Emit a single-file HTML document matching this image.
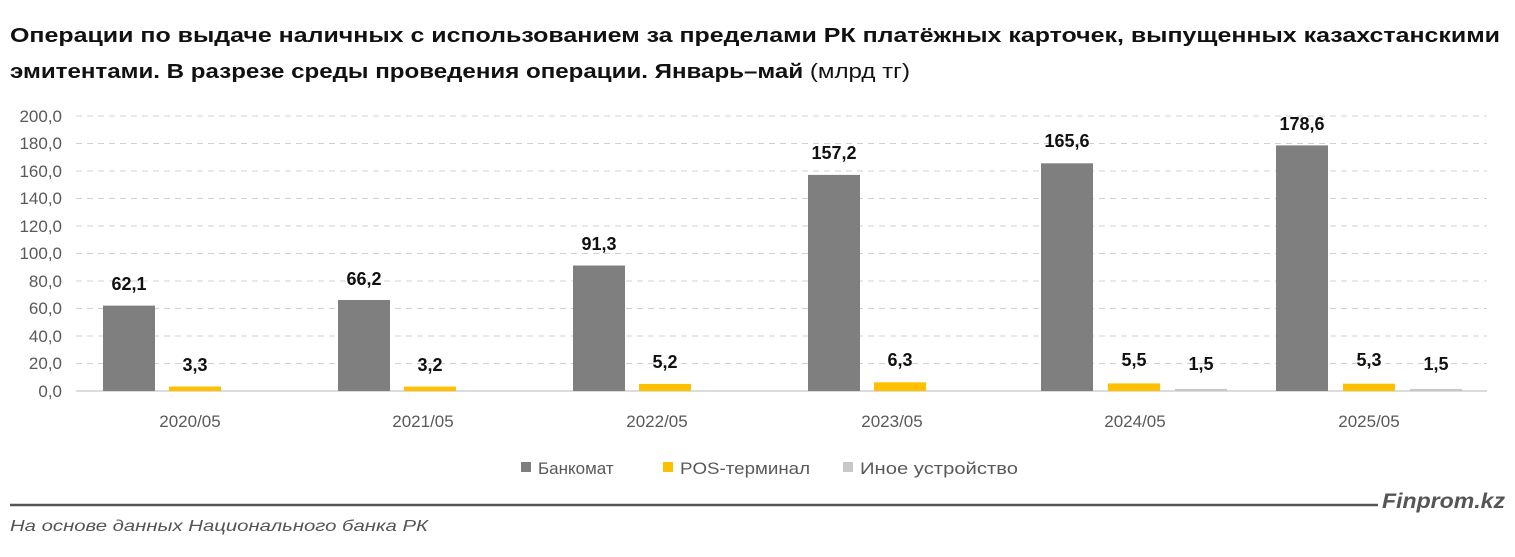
<!DOCTYPE html>
<html><head><meta charset="utf-8"><style>
body{margin:0;background:#fff;width:1515px;height:552px;overflow:hidden;font-family:"Liberation Sans",sans-serif}
</style></head><body>
<svg width="1515" height="552" xmlns="http://www.w3.org/2000/svg" font-family="Liberation Sans, sans-serif">
<text x="10" y="42" font-size="20" font-weight="bold" fill="#111" textLength="1490" lengthAdjust="spacingAndGlyphs">Операции по выдаче наличных с использованием за пределами РК платёжных карточек, выпущенных казахстанскими</text>
<text x="10" y="78" font-size="20" fill="#111" textLength="900" lengthAdjust="spacingAndGlyphs"><tspan font-weight="bold">эмитентами. В разрезе среды проведения операции. Январь–май</tspan> (млрд тг)</text>
<g stroke="#d0d0d0" stroke-dasharray="6,5" stroke-width="1">
<line x1="76" x2="1487" y1="116" y2="116"/><line x1="76" x2="1487" y1="143.5" y2="143.5"/><line x1="76" x2="1487" y1="171" y2="171"/><line x1="76" x2="1487" y1="198.5" y2="198.5"/><line x1="76" x2="1487" y1="226" y2="226"/><line x1="76" x2="1487" y1="253.5" y2="253.5"/><line x1="76" x2="1487" y1="281" y2="281"/><line x1="76" x2="1487" y1="308.5" y2="308.5"/><line x1="76" x2="1487" y1="336" y2="336"/><line x1="76" x2="1487" y1="363.5" y2="363.5"/>
</g>
<line x1="76" x2="1487" y1="391" y2="391" stroke="#d0d0d0" stroke-width="1.5"/>
<g font-size="17" fill="#595959" text-anchor="end">
<text x="62" y="122">200,0</text><text x="62" y="149">180,0</text><text x="62" y="177">160,0</text><text x="62" y="204">140,0</text><text x="62" y="232">120,0</text><text x="62" y="259">100,0</text><text x="62" y="287">80,0</text><text x="62" y="314">60,0</text><text x="62" y="342">40,0</text><text x="62" y="369">20,0</text><text x="62" y="397">0,0</text>
</g>
<g fill="#7f7f7f">
<rect x="103" y="305.6" width="52" height="85.4"/>
<rect x="338" y="300" width="52" height="91"/>
<rect x="573" y="265.5" width="52" height="125.5"/>
<rect x="808" y="174.9" width="52" height="216.1"/>
<rect x="1041" y="163.3" width="52" height="227.7"/>
<rect x="1276" y="145.4" width="52" height="245.6"/>
</g>
<g fill="#ffc000">
<rect x="169" y="386.5" width="52" height="4.5"/>
<rect x="404" y="386.6" width="52" height="4.4"/>
<rect x="639" y="383.9" width="52" height="7.1"/>
<rect x="874" y="382.3" width="52" height="8.7"/>
<rect x="1108" y="383.4" width="52" height="7.6"/>
<rect x="1343" y="383.7" width="52" height="7.3"/>
</g>
<g fill="#c8c8c8">
<rect x="1175" y="388.9" width="52" height="2.1"/>
<rect x="1410" y="388.9" width="52" height="2.1"/>
</g>
<g font-size="18" font-weight="bold" fill="#111" text-anchor="middle">
<text x="129" y="290">62,1</text><text x="364" y="285">66,2</text><text x="599" y="250">91,3</text><text x="834" y="159">157,2</text><text x="1067" y="147">165,6</text><text x="1302" y="130">178,6</text>
<text x="195" y="371">3,3</text><text x="430" y="371">3,2</text><text x="665" y="368">5,2</text><text x="900" y="366">6,3</text><text x="1134" y="366">5,5</text><text x="1369" y="366">5,3</text>
<text x="1201" y="370">1,5</text><text x="1436" y="370">1,5</text>
</g>
<g font-size="17" fill="#595959" text-anchor="middle">
<text x="190" y="427">2020/05</text><text x="423" y="427">2021/05</text><text x="657" y="427">2022/05</text><text x="892" y="427">2023/05</text><text x="1135" y="427">2024/05</text><text x="1369" y="427">2025/05</text>
</g>
<g font-size="17" fill="#595959">
<rect x="521" y="462" width="10" height="10" fill="#7f7f7f"/><text x="538" y="474">Банкомат</text>
<rect x="663" y="462" width="10" height="10" fill="#ffc000"/><text x="680" y="474" textLength="130" lengthAdjust="spacingAndGlyphs">POS-терминал</text>
<rect x="843" y="462" width="10" height="10" fill="#c8c8c8"/><text x="860" y="474" textLength="158" lengthAdjust="spacingAndGlyphs">Иное устройство</text>
</g>
<line x1="10" x2="1378" y1="505" y2="505" stroke="#555" stroke-width="2.5"/>
<text x="1382" y="508" font-size="21" font-weight="bold" font-style="italic" fill="#555" textLength="123" lengthAdjust="spacingAndGlyphs">Finprom.kz</text>
<text x="10" y="531" font-size="16" font-style="italic" fill="#555" textLength="418" lengthAdjust="spacingAndGlyphs">На основе данных Национального банка РК</text>
</svg>
</body></html>
